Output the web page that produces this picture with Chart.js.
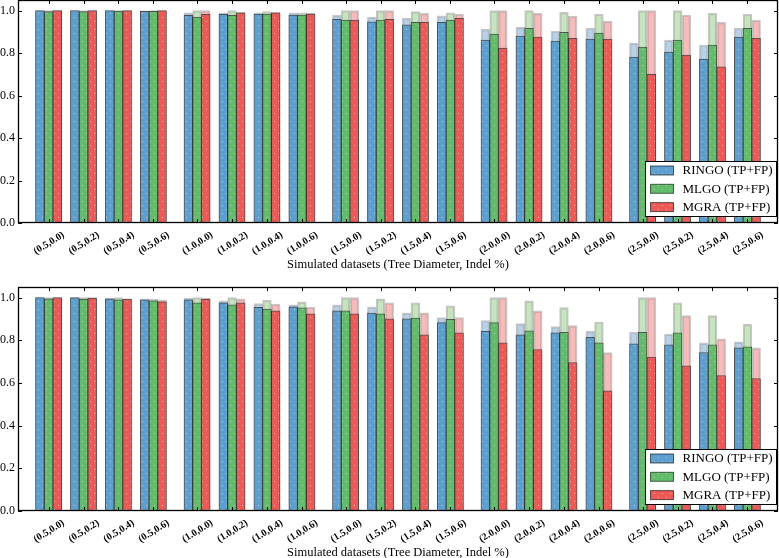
<!DOCTYPE html>
<html>
<head>
<meta charset="utf-8">
<script src="https://cdn.jsdelivr.net/npm/chart.js@4/dist/chart.umd.min.js"></script>
<style>
html, body { margin: 0; padding: 0; background: #fff; overflow: hidden; }
#wrap1 { position: absolute; left: 0; top: 0; width: 779px; height: 272px; }
#wrap2 { position: absolute; left: 0; top: 272px; width: 779px; height: 288px; }
</style>
</head>
<body>
<div id="wrap1"><canvas id="myChart1" width="779" height="272"></canvas></div>
<div id="wrap2"><canvas id="myChart2" width="779" height="288"></canvas></div>
<script>
//---------------------------
// DATA
//---------------------------

const categories = [
    '(0.5,0.0)', '(0.5,0.2)', '(0.5,0.4)', '(0.5,0.6)',
    '(1.0,0.0)', '(1.0,0.2)', '(1.0,0.4)', '(1.0,0.6)',
    '(1.5,0.0)', '(1.5,0.2)', '(1.5,0.4)', '(1.5,0.6)',
    '(2.0,0.0)', '(2.0,0.2)', '(2.0,0.4)', '(2.0,0.6)',
    '(2.5,0.0)', '(2.5,0.2)', '(2.5,0.4)', '(2.5,0.6)'
];
const methods = ['RINGO', 'MLGO', 'MGRA'];
const yTicks = [0, 0.2, 0.4, 0.6, 0.8, 1.0];
const xTitle = 'Simulated datasets (Tree Diameter, Indel %)';

// top panel
const topRingoTP  = [1.000, 1.000, 1.000, 0.997, 0.978, 0.983, 0.984, 0.979, 0.959, 0.947, 0.933, 0.945, 0.861, 0.880, 0.856, 0.866, 0.781, 0.805, 0.772, 0.875];
const topRingoAll = [1.000, 1.000, 1.000, 0.999, 0.990, 0.990, 0.990, 0.990, 0.979, 0.969, 0.964, 0.975, 0.912, 0.922, 0.903, 0.917, 0.847, 0.861, 0.838, 0.917];
const topMlgoTP   = [0.995, 0.995, 0.998, 0.997, 0.969, 0.978, 0.984, 0.979, 0.955, 0.955, 0.945, 0.955, 0.889, 0.917, 0.898, 0.894, 0.828, 0.861, 0.838, 0.917];
const topMlgoAll  = [1.000, 1.000, 1.000, 1.000, 1.000, 1.000, 0.996, 0.990, 1.000, 1.000, 0.995, 0.990, 1.000, 1.000, 0.992, 0.983, 1.000, 1.000, 0.987, 0.983];
const topMgraTP   = [1.000, 1.000, 1.000, 1.000, 0.983, 0.990, 0.990, 0.984, 0.955, 0.959, 0.945, 0.964, 0.824, 0.875, 0.870, 0.866, 0.700, 0.791, 0.735, 0.870];
const topMgraAll  = [1.000, 1.000, 1.000, 1.000, 1.000, 0.993, 0.992, 0.990, 1.000, 1.000, 0.987, 0.983, 1.000, 0.987, 0.973, 0.950, 1.000, 0.978, 0.945, 0.955];

// bottom panel
const botRingoTP  = [1.000, 1.000, 0.994, 0.990, 0.990, 0.976, 0.955, 0.957, 0.938, 0.928, 0.901, 0.883, 0.842, 0.826, 0.835, 0.814, 0.784, 0.779, 0.743, 0.765];
const botRingoAll = [1.000, 1.000, 0.998, 0.994, 0.998, 0.985, 0.972, 0.966, 0.966, 0.957, 0.929, 0.907, 0.893, 0.878, 0.864, 0.842, 0.838, 0.829, 0.788, 0.793];
const botMlgoTP   = [0.994, 0.993, 0.990, 0.985, 0.976, 0.966, 0.947, 0.952, 0.938, 0.924, 0.904, 0.898, 0.883, 0.845, 0.837, 0.788, 0.838, 0.835, 0.779, 0.769];
const botMlgoAll  = [1.000, 1.000, 1.000, 0.993, 1.000, 1.000, 0.988, 0.980, 1.000, 0.994, 0.976, 0.962, 1.000, 0.985, 0.953, 0.886, 1.000, 0.976, 0.916, 0.875];
const botMgraTP   = [1.000, 0.998, 0.993, 0.980, 0.993, 0.976, 0.938, 0.924, 0.924, 0.901, 0.826, 0.835, 0.788, 0.757, 0.696, 0.563, 0.722, 0.680, 0.635, 0.621];
const botMgraAll  = [1.000, 1.000, 0.994, 0.990, 0.998, 0.994, 0.970, 0.955, 1.000, 0.976, 0.929, 0.907, 1.000, 0.938, 0.869, 0.743, 1.000, 0.916, 0.807, 0.765];

//---------------------------
// STYLE
//---------------------------

const darkColors  = ['rgb(90,160,210)', 'rgb(96,189,104)', 'rgb(241,88,84)'];
const lightColors = ['rgba(93,155,210,0.45)', 'rgba(110,190,90,0.4)', 'rgba(245,88,84,0.42)'];
const FONT = "'Liberation Serif', 'DejaVu Serif', serif";

Chart.defaults.font.family = FONT;
Chart.defaults.color = '#000';

// dotted hatch like the '.' hatch in the original
function dotted(color) {
    const c = document.createElement('canvas');
    c.width = 8; c.height = 8;
    const g = c.getContext('2d');
    g.fillStyle = color;
    g.fillRect(0, 0, 8, 8);
    g.fillStyle = 'rgba(205,205,205,0.85)';
    g.fillRect(2, 1, 1, 1);
    g.fillRect(6, 5, 1, 1);
    return g.createPattern(c, 'repeat');
}

// x position of a group (groups of 4 with a small gap between diameters)
function groupLeft(i) {
    return 0.5 + i + Math.floor(i / 4) * 0.25;
}
const BAR = 0.25;
const xMax = groupLeft(categories.length - 1) + 3 * BAR + 0.5;
const tickPos = categories.map((c, i) => groupLeft(i) + 1.5 * BAR);

function toPoints(values, j) {
    return values.map((v, i) => ({ x: groupLeft(i) + BAR / 2 + j * BAR, y: v }));
}

// frame, inward ticks and boxed legend
const framePlugin = {
    id: 'frame',
    afterDatasetsDraw(chart) {
        const { ctx, chartArea: a, scales } = chart;
        const x = scales.x, y = scales.y;
        ctx.save();
        ctx.strokeStyle = '#000';
        ctx.lineWidth = 1;
        ctx.beginPath();
        x.ticks.forEach(t => {
            const px = Math.round(x.getPixelForValue(t.value)) + 0.5;
            ctx.moveTo(px, a.top); ctx.lineTo(px, a.top + 4);
            ctx.moveTo(px, a.bottom); ctx.lineTo(px, a.bottom - 4);
        });
        y.ticks.forEach(t => {
            const py = Math.round(y.getPixelForValue(t.value)) + 0.5;
            ctx.moveTo(a.left, py); ctx.lineTo(a.left + 4, py);
            ctx.moveTo(a.right, py); ctx.lineTo(a.right - 4, py);
        });
        ctx.stroke();
        ctx.lineWidth = 1.3;
        ctx.strokeRect(a.left + 0.5, a.top + 0.5, a.right - a.left - 1, a.bottom - a.top - 1);

        // legend
        const w = 131, h = 55;
        const lx = Math.round(a.right - 2 - w) + 0.5;
        const ly = Math.round(a.bottom - 7 - h) + 0.5;
        ctx.fillStyle = '#fff';
        ctx.fillRect(lx, ly, w, h);
        ctx.lineWidth = 1;
        ctx.strokeStyle = '#000';
        ctx.strokeRect(lx, ly, w, h);
        ctx.font = '13px ' + FONT;
        ctx.textBaseline = 'middle';
        ctx.textAlign = 'left';
        methods.forEach((m, j) => {
            const cy = ly + 9 + j * 18.3;
            ctx.fillStyle = dotted(darkColors[j]);
            ctx.fillRect(lx + 5, cy - 4.5, 23, 9);
            ctx.strokeStyle = 'rgba(0,0,0,0.6)';
            ctx.strokeRect(lx + 5, cy - 4.5, 23, 9);
            ctx.fillStyle = '#000';
            ctx.fillText(m + ' (TP+FP)', lx + 37, cy + 0.5);
        });
        ctx.restore();
    }
};

function makeChart(id, tp, all, padTop) {
    const datasets = [];
    methods.forEach((m, j) => {
        datasets.push({
            label: m + ' (TP)',
            data: toPoints(tp[j], j),
            backgroundColor: dotted(darkColors[j]),
            borderColor: 'rgba(0,0,0,0.6)',
            borderWidth: 1,
            grouped: false,
            categoryPercentage: 1,
            barPercentage: 1,
            order: 0
        });
        datasets.push({
            label: m + ' (TP+FP)',
            data: toPoints(all[j], j),
            backgroundColor: dotted(lightColors[j]),
            borderColor: 'rgba(0,0,0,0.22)',
            borderWidth: 1.5,
            grouped: false,
            categoryPercentage: 1,
            barPercentage: 1,
            order: 1
        });
    });

    return new Chart(document.getElementById(id), {
        type: 'bar',
        data: { datasets: datasets },
        options: {
            responsive: false,
            animation: false,
            layout: { padding: { top: padTop, right: 1, bottom: 0, left: 0 } },
            plugins: {
                legend: { display: false },
                tooltip: { enabled: false }
            },
            scales: {
                x: {
                    type: 'linear',
                    min: 0,
                    max: xMax,
                    offset: false,
                    grid: { display: false, drawTicks: false, offset: false },
                    border: { display: false },
                    afterBuildTicks: s => { s.ticks = tickPos.map(v => ({ value: v })); },
                    afterFit: s => { s.height = 49; s.paddingLeft = 0; s.paddingRight = 0; },
                    ticks: {
                        autoSkip: false,
                        minRotation: 32,
                        maxRotation: 32,
                        padding: 6,
                        labelOffset: 15,
                        font: { size: 10, weight: 'bold' },
                        callback: (v, i) => categories[i]
                    },
                    title: {
                        display: true,
                        text: xTitle,
                        font: { size: 12.5 },
                        padding: { top: 0, bottom: 0 }
                    }
                },
                y: {
                    min: 0,
                    max: 1.05,
                    grid: { display: false, drawTicks: false },
                    border: { display: false },
                    afterBuildTicks: s => { s.ticks = yTicks.map(v => ({ value: v })); },
                    afterFit: s => { s.width = 18; s.paddingTop = 0; s.paddingBottom = 0; },
                    ticks: {
                        padding: 3,
                        font: { size: 12 },
                        callback: v => v.toFixed(1)
                    }
                }
            }
        },
        plugins: [framePlugin]
    });
}

makeChart('myChart1',
    [topRingoTP, topMlgoTP, topMgraTP],
    [topRingoAll, topMlgoAll, topMgraAll], 0);

makeChart('myChart2',
    [botRingoTP, botMlgoTP, botMgraTP],
    [botRingoAll, botMlgoAll, botMgraAll], 15);
</script>
</body>
</html>
